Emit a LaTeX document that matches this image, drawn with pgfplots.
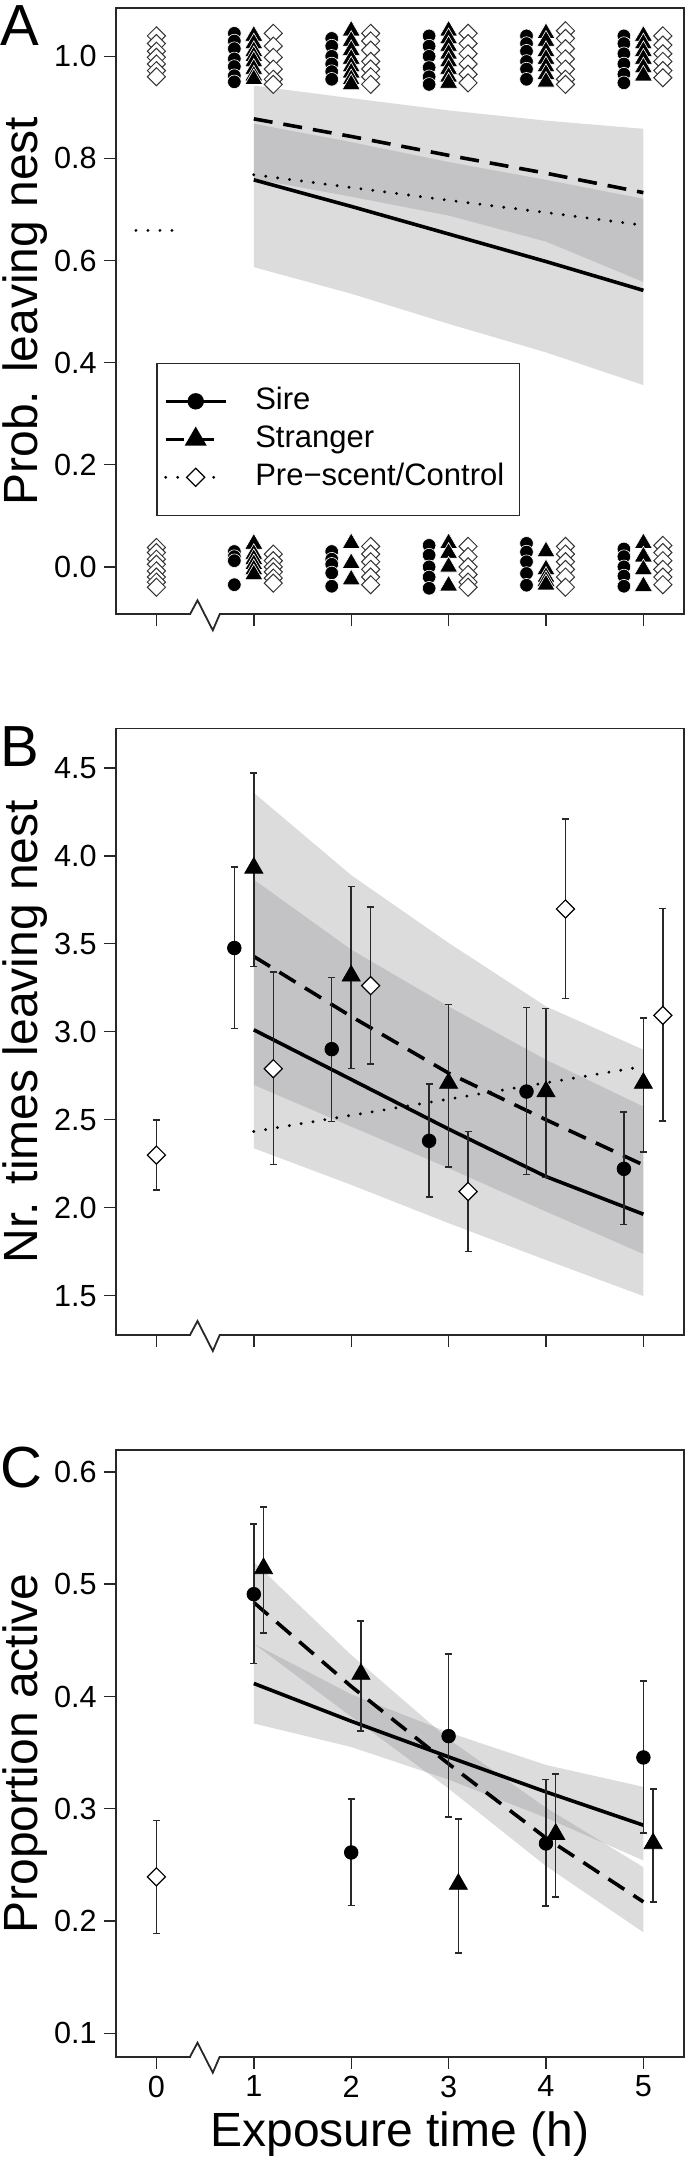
\documentclass[border=0pt]{standalone}
\usepackage{fontspec}
\setmainfont{Liberation Sans}
\usepackage{pgfplots}
\pgfplotsset{compat=1.18}
\definecolor{bandcol}{RGB}{138,139,143}
\definecolor{axcol}{RGB}{40,40,40}
\newcommand\tickfont{\fontsize{15.3pt}{18pt}\selectfont}
\newcommand\labelfont{\fontsize{24pt}{28pt}\selectfont}
\newcommand\letterfont{\fontsize{29pt}{34pt}\selectfont}
\newcommand\legfont{\fontsize{15.5pt}{18pt}\selectfont}
\pgfplotsset{
  panel/.style={
    scale only axis, width=283.95pt, height=303.25pt, anchor=south west,
    xmin=-0.417, xmax=5.414, xtick={0,1,2,3,4,5},
    tick align=outside, tick pos=left, major tick length=6pt,
    tick style={line width=0.7pt, axcol},
    axis line style={line width=0.9pt, axcol},
    tick label style={font=\tickfont},
    /pgf/number format/assume math mode=true,
    yticklabel style={/pgf/number format/.cd, fixed, fixed zerofill, precision=1},
    ylabel style={font=\labelfont, at={(rel axis cs:-0.1379,0.5)}, anchor=base},
    clip=false,
  },
  sireline/.style={black, line width=1.8pt, solid},
  strline/.style={black, line width=1.8pt, dash pattern=on 9.5pt off 5.5pt},
  conline/.style={black, line width=1.6pt, line cap=round, dash pattern=on 0pt off 6pt},
  band/.style={draw=none, fill=bandcol, fill opacity=0.3},
  ebar/.style={/pgfplots/error bars/y dir=both, /pgfplots/error bars/y explicit,
    /pgfplots/error bars/error bar style={line width=0.75pt, axcol, solid},
    /pgfplots/error bars/error mark options={rotate=90, mark size=1.75pt, line width=0.75pt, axcol, solid}},
  sirept/.style={only marks, mark=*, mark size=3.4pt, mark options={solid, fill=black, draw=black}},
  strpt/.style={only marks, mark=triangle*, mark size=5.2pt, mark options={solid, fill=black, draw=black}},
  conpt/.style={only marks, mark=square*, mark size=3.2pt, mark options={solid, rotate=45, fill=white, draw=black, line width=0.6pt}},
}
\begin{document}
\begin{tikzpicture}
%================ Panel A
\begin{axis}[panel, at={(57.9pt,-307.15pt)},
  ymin=-0.093, ymax=1.095, ytick={0,0.2,0.4,0.6,0.8,1.0}, xticklabels={},
  ylabel={Prob. leaving nest},
  legend cell align=left,
  legend image code/.code={\draw[mark repeat=2,mark phase=2] plot coordinates {(0pt,0pt) (15pt,0pt) (30pt,0pt)};},
  legend style={at={(axis cs:0,0.40)}, anchor=north west, draw=axcol, line width=0.7pt, fill=white,
    font=\legfont, inner xsep=3.5pt, inner ysep=11.5pt, row sep=4pt,
    nodes={inner sep=0pt, text height=11.5pt, text depth=3.5pt},
    /tikz/every odd column/.append style={column sep=14pt}},
]
\addlegendimage{sireline, line width=1.4pt, mark=*, mark options={solid, mark size=3.4pt}}
\addlegendentry{Sire}
\addlegendimage{strline, line width=1.4pt, dash pattern=on 9pt off 6pt, mark=triangle*, mark options={solid, mark size=5pt}}
\addlegendentry{Stranger}
\addlegendimage{conline, mark=square*, mark options={solid, rotate=45, mark size=3.2pt, fill=white, draw=black, line width=0.6pt}}
\addlegendentry{Pre−scent/Control\hspace*{4pt}}
% confidence bands
\addplot[band] coordinates {(1,0.868)(2,0.832)(3,0.793)(4,0.758)(5,0.721)(5,0.356)(4,0.420)(3,0.476)(2,0.535)(1,0.587)};
\addplot[band] coordinates {(1,0.9425)(2,0.918)(3,0.894)(4,0.874)(5,0.858)(5,0.558)(4,0.637)(3,0.688)(2,0.725)(1,0.760)};
% fitted lines
\addplot[sireline] coordinates {(1,0.758)(2,0.706)(3,0.652)(4,0.598)(5,0.5415)};
\addplot[strline] coordinates {(1,0.8775)(2,0.843)(3,0.806)(4,0.771)(5,0.733)};
\addplot[conline] coordinates {(1,0.768)(2,0.743)(3,0.718)(4,0.694)(5,0.669)};
\addplot[conline] coordinates {(-0.21,0.659)(0.19,0.659)};
% jittered raw outcomes
\addplot[only marks, mark=*, mark size=3.4pt, mark options={fill=black, draw=white, line width=0.3pt}] coordinates {
(0.8,1.045)(0.8,1.03)(0.8,1.015)(0.8,0.995)(0.8,0.98)(0.8,0.962)(0.8,0.95)
(0.8,0.03)(0.8,0.02)(0.8,0.012)(0.8,-0.035)
(1.8,1.035)(1.8,1.02)(1.8,1.0)(1.8,0.985)(1.8,0.97)(1.8,0.955)
(1.8,0.03)(1.8,0.015)(1.8,0.005)(1.8,-0.012)(1.8,-0.038)
(2.8,1.04)(2.8,1.02)(2.8,1.0)(2.8,0.978)(2.8,0.96)(2.8,0.945)
(2.8,0.042)(2.8,0.023)(2.8,0.0)(2.8,-0.02)(2.8,-0.042)
(3.8,1.04)(3.8,1.025)(3.8,1.01)(3.8,0.99)(3.8,0.975)(3.8,0.955)
(3.8,0.046)(3.8,0.029)(3.8,0.01)(3.8,-0.013)(3.8,-0.036)
(4.8,1.04)(4.8,1.025)(4.8,1.005)(4.8,0.985)(4.8,0.965)(4.8,0.948)
(4.8,0.035)(4.8,0.02)(4.8,0.0)(4.8,-0.018)(4.8,-0.038)};
\addplot[only marks, mark=triangle*, mark size=5.2pt, mark options={fill=black, draw=white, line width=0.3pt}] coordinates {
(1,1.04)(1,1.025)(1,1.01)(1,1.0)(1,0.99)(1,0.975)(1,0.962)(1,0.955)
(1,0.045)(1,0.025)(1,0.015)(1,0.005)(1,-0.005)(1,-0.015)
(2,1.05)(2,1.03)(2,1.012)(2,0.995)(2,0.98)(2,0.968)(2,0.955)(2,0.945)
(2,0.046)(2,0.007)(2,-0.025)
(3,1.05)(3,1.035)(3,1.02)(3,1.005)(3,0.99)(3,0.975)(3,0.96)(3,0.948)
(3,0.046)(3,0.027)(3,0.0)(3,-0.037)
(4,1.045)(4,1.03)(4,1.01)(4,0.995)(4,0.98)(4,0.965)(4,0.95)
(4,0.03)(4,-0.005)(4,-0.02)(4,-0.028)(4,-0.035)
(5,1.04)(5,1.025)(5,1.01)(5,0.995)(5,0.978)(5,0.962)
(5,0.046)(5,0.02)(5,-0.005)(5,-0.038)};
\addplot[only marks, mark=square*, mark size=3.2pt, mark options={rotate=45, fill=white, draw=black!80, line width=0.5pt}] coordinates {
(0,1.04)(0,1.025)(0,1.01)(0,0.998)(0,0.985)(0,0.972)(0,0.96)
(0,0.038)(0,0.028)(0,0.015)(0,0.005)(0,-0.008)(0,-0.02)(0,-0.03)(0,-0.04)
(1.2,1.045)(1.2,1.02)(1.2,0.998)(1.2,0.975)(1.2,0.955)(1.2,0.945)
(1.2,0.025)(1.2,0.012)(1.2,0.0)(1.2,-0.01)(1.2,-0.022)(1.2,-0.032)
(2.2,1.045)(2.2,1.03)(2.2,1.012)(2.2,0.99)(2.2,0.975)(2.2,0.96)(2.2,0.945)
(2.2,0.04)(2.2,0.025)(2.2,0.01)(2.2,-0.005)(2.2,-0.02)(2.2,-0.035)
(3.2,1.045)(3.2,1.025)(3.2,1.005)(3.2,0.985)(3.2,0.965)(3.2,0.948)
(3.2,0.04)(3.2,0.02)(3.2,0.0)(3.2,-0.015)(3.2,-0.03)(3.2,-0.04)
(4.2,1.05)(4.2,1.035)(4.2,1.015)(4.2,0.995)(4.2,0.975)(4.2,0.955)(4.2,0.945)
(4.2,0.04)(4.2,0.025)(4.2,0.01)(4.2,-0.005)(4.2,-0.02)(4.2,-0.04)
(5.2,1.04)(5.2,1.022)(5.2,1.005)(5.2,0.99)(5.2,0.972)(5.2,0.958)
(5.2,0.042)(5.2,0.028)(5.2,0.012)(5.2,-0.005)(5.2,-0.02)(5.2,-0.035)};
\node[font=\letterfont, anchor=base west, inner sep=0pt] at (rel axis cs:-0.2039,0.938) {A};
\end{axis}
%================ Panel B
\begin{axis}[panel, at={(57.9pt,-667.5pt)},
  ymin=1.2765, ymax=4.7235, ytick={1.5,2,2.5,3,3.5,4,4.5}, xticklabels={},
  ylabel={Nr. times leaving nest}]
\addplot[band] coordinates {(1,3.865)(2,3.467)(3,3.144)(4,2.841)(5,2.575)(5,1.498)(4,1.703)(3,1.912)(2,2.130)(1,2.338)};
\addplot[band] coordinates {(1,4.358)(2,3.890)(3,3.505)(4,3.144)(5,2.898)(5,1.737)(4,1.978)(3,2.225)(2,2.461)(1,2.698)};
\addplot[sireline] coordinates {(1,3.011)(2,2.729)(3,2.447)(4,2.177)(5,1.963)};
\addplot[strline] coordinates {(1,3.428)(2,3.087)(3,2.765)(4,2.500)(5,2.243)};
\addplot[conline] coordinates {(1,2.433)(2,2.525)(3,2.617)(4,2.710)(5,2.803)};
\addplot[sirept, ebar] coordinates {
(0.8,3.476) += (0,0.461) -= (0,0.457)
(1.8,2.901) += (0,0.408) -= (0,0.411)
(2.8,2.380) += (0,0.322) -= (0,0.319)
(3.8,2.660) += (0,0.478) -= (0,0.470)
(4.8,2.221) += (0,0.322) -= (0,0.315)};
\addplot[strpt, ebar] coordinates {
(1,3.931) += (0,0.541) -= (0,0.560)
(2,3.318) += (0,0.508) -= (0,0.528)
(3,2.708) += (0,0.446) -= (0,0.478)
(4,2.660) += (0,0.473) -= (0,0.487)
(5,2.708) += (0,0.370) -= (0,0.391)};
\addplot[conpt, ebar] coordinates {
(0,2.299) += (0,0.200) -= (0,0.198)
(1.2,2.790) += (0,0.550) -= (0,0.545)
(2.2,3.262) += (0,0.447) -= (0,0.444)
(3.2,2.092) += (0,0.341) -= (0,0.342)
(4.2,3.698) += (0,0.512) -= (0,0.510)
(5.2,3.093) += (0,0.607) -= (0,0.599)};
\node[font=\letterfont, anchor=base west, inner sep=0pt] at (rel axis cs:-0.2039,0.938) {B};
\end{axis}
%================ Panel C
\begin{axis}[panel, at={(57.9pt,-1028.35pt)},
  ymin=0.0792, ymax=0.6193, ytick={0.1,0.2,0.3,0.4,0.5,0.6},
  ylabel={Proportion active},
  xlabel={Exposure time (h)},
  xlabel style={font=\labelfont, at={(rel axis cs:0.5,0)}, anchor=base, yshift=-45pt}]
\addplot[band] coordinates {(1,0.447)(2,0.402)(3,0.368)(4,0.339)(5,0.3195)(5,0.254)(4,0.292)(3,0.326)(2,0.355)(1,0.376)};
\addplot[band] coordinates {(1,0.520)(2,0.437)(3,0.362)(4,0.301)(5,0.248)(5,0.190)(4,0.249)(3,0.318)(2,0.382)(1,0.447)};
\addplot[sireline] coordinates {(1,0.4116)(2,0.378)(3,0.3462)(4,0.315)(5,0.2854)};
\addplot[strline] coordinates {(1,0.4837)(2,0.409)(3,0.340)(4,0.274)(5,0.2171)};
\addplot[sirept, ebar] coordinates {
(1,0.4911) += (0,0.0623) -= (0,0.0617)
(2,0.2611) += (0,0.0477) -= (0,0.0472)
(3,0.3647) += (0,0.0730) -= (0,0.0719)
(4,0.2691) += (0,0.0570) -= (0,0.0556)
(5,0.3457) += (0,0.0682) -= (0,0.0671)};
\addplot[strpt, ebar] coordinates {
(1.1,0.5140) += (0,0.0549) -= (0,0.0573)
(2.1,0.4199) += (0,0.0474) -= (0,0.0505)
(3.1,0.2329) += (0,0.0578) -= (0,0.0612)
(4.1,0.2774) += (0,0.0537) -= (0,0.0561)
(5.1,0.2691) += (0,0.0483) -= (0,0.0520)};
\addplot[conpt, ebar] coordinates {
(0,0.2394) += (0,0.0502) -= (0,0.0505)};
\node[font=\letterfont, anchor=base west, inner sep=0pt] at (rel axis cs:-0.2039,0.938) {C};
\end{axis}
%================ axis breaks
\foreach \yb in {-307.15,-667.5,-1028.35}{
  \fill[white] (95.4pt,\yb pt-1pt) rectangle (109.45pt,\yb pt+1pt);
  \draw[axcol, line width=0.9pt, line join=miter] (95pt,\yb pt) -- (98.75pt,\yb pt+7pt) -- (106.4pt,\yb pt-8pt) -- (109.85pt,\yb pt);
}
\pgfresetboundingbox
\useasboundingbox (0,0) rectangle (342.5pt,-1079pt);
\end{tikzpicture}
\end{document}
